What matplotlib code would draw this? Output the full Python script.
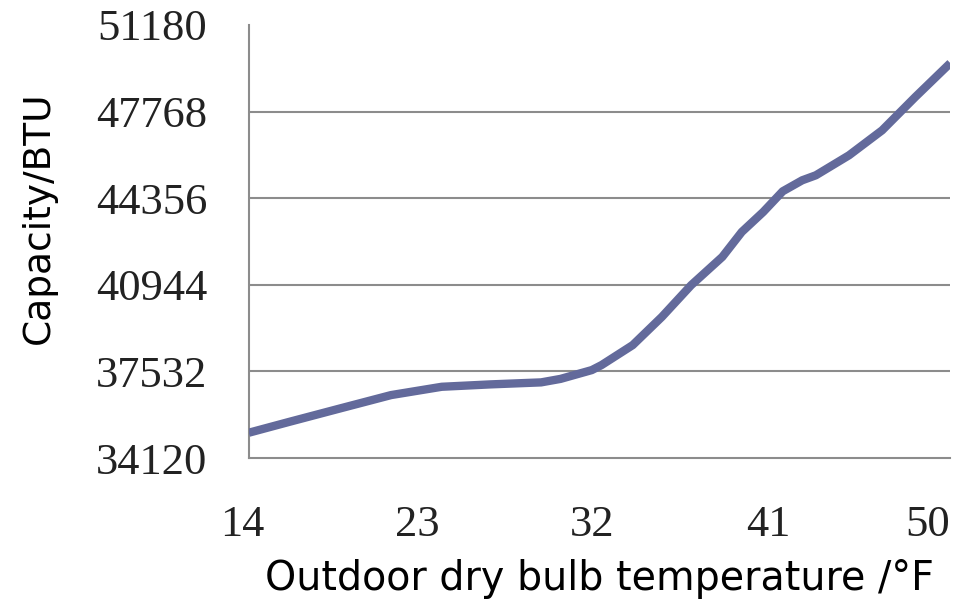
import matplotlib
matplotlib.use("Agg")
import matplotlib.pyplot as plt
import matplotlib.transforms as mtransforms

# Values
temp_f = [14.0, 16.1, 18.7, 21.3, 23.9, 26.4, 29.0, 30.0, 31.6, 32.1, 33.7,
          35.2, 36.7, 38.3, 39.3, 40.4, 41.4, 42.4, 43.1, 44.8, 46.5, 48.2, 50.0]
capacity = [35116, 35549, 36076, 36599, 36926, 37020, 37099, 37237, 37583, 37780, 38567,
            39681, 40928, 42042, 43026, 43813, 44627, 45060, 45257, 46044, 47028, 48339, 49676]

x_ticks = [14, 23, 32, 41, 50]
y_ticks = [34120, 37532, 40944, 44356, 47768, 51180]

fig = plt.figure(figsize=(9.57, 6.08), dpi=100)
ax = fig.add_axes([0.260, 0.2467, 0.733, 0.7123])

grid_col = "#8c8c8c"
line_col = "#636a9b"

# horizontal gridlines (not at the top)
for yv in y_ticks[1:-1]:
    ax.axhline(yv, color=grid_col, lw=1.5, zorder=1)

ax.plot(temp_f, capacity, color=line_col, lw=6, solid_capstyle="butt",
        solid_joinstyle="round", zorder=3)

ax.set_xlim(14, 50)
ax.set_ylim(34120, 51180)
ax.set_xticks(x_ticks)
ax.set_yticks(y_ticks)
ax.set_xticklabels([str(v) for v in x_ticks])
ax.set_yticklabels([str(v) for v in y_ticks])

for side in ["top", "right"]:
    ax.spines[side].set_visible(False)
for side in ["left", "bottom"]:
    ax.spines[side].set_color(grid_col)
    ax.spines[side].set_linewidth(1.5)

ax.tick_params(axis="both", length=0)
ax.tick_params(axis="y", pad=30)
ax.tick_params(axis="x", pad=34)

for lab in ax.get_yticklabels() + ax.get_xticklabels():
    lab.set_fontfamily("Liberation Serif")
    lab.set_fontsize(32)
    lab.set_color("#222222")

# shift x labels a little left like the original
xlabs = ax.get_xticklabels()
shift = mtransforms.ScaledTranslation(-7 / 100, 0, fig.dpi_scale_trans)
for lab in xlabs[:-1]:
    lab.set_transform(lab.get_transform() + shift)
xlabs[-1].set_horizontalalignment("right")

ax.set_xlabel("Outdoor dry bulb temperature /°F", fontsize=28.5,
              family="DejaVu Sans", labelpad=10)
ax.set_ylabel("Capacity/BTU", fontsize=27, family="DejaVu Sans")
ax.yaxis.set_label_coords(-0.274, 0.554)

fig.savefig("out.png", dpi=100)
